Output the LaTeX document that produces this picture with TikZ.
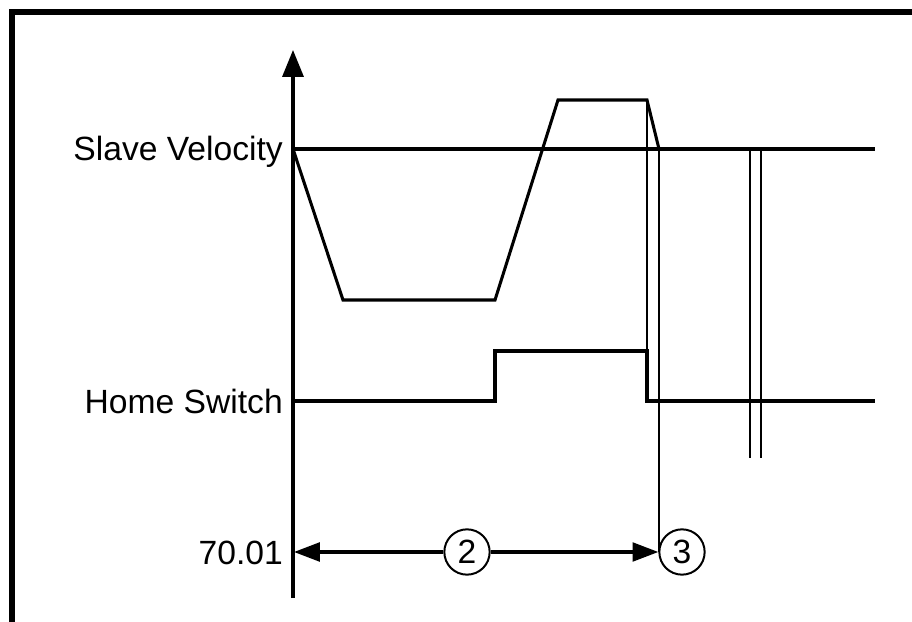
\documentclass[tikz,border=0pt]{standalone}
\usepackage{fontspec}
\setmainfont{Liberation Sans}
\usetikzlibrary{arrows.meta, positioning, calc}

\begin{document}
\begin{tikzpicture}[x=0.03cm, y=-0.03cm, font=\fontsize{28.7}{34}\selectfont]
    \tikzstyle{frame} = [line width=5.4pt, line join=miter]
    \tikzstyle{wave} = [line width=2.6pt, line join=miter]
    \tikzstyle{marker} = [line width=1.7pt]
    \tikzstyle{sig} = [anchor=base east, inner sep=0pt]
    \tikzstyle{num} = [circle, draw=black, line width=1.7pt, minimum size=1.36cm, inner sep=0pt]
    \tikzstyle{arrow} = [line width=2.6pt, -{Triangle[length=22pt, width=16pt]}]

    \useasboundingbox (0,0) rectangle (912,622);
    \draw[frame] (12,622) -- (12,12) -- (912,12);

    % axis
    \coordinate (axbot) at (293,598);
    \coordinate (axtop) at (293,50);
    \draw[line width=2.6pt, -{Triangle[length=23pt, width=18pt]}] (axbot) -- (axtop);

    % labels
    \node (vel) [sig] at (283,161) {Slave Velocity};
    \node (home) [sig] at (283,413) {Home Switch};
    \node (pos) [sig] at (283,564) {70.01};

    % slave velocity
    \coordinate (v0) at (293,149);
    \coordinate (vend) at (875,149);
    \draw[wave] (v0) -- (vend);
    \draw[wave] (v0) -- (343,300) -- (495,300) -- (558,100) -- (647,100) -- (659,149);

    % home switch
    \coordinate (h0) at (293,401);
    \draw[wave] (h0) -- (495,401) -- (495,351) -- (647,351) -- (647,401) -- (875,401);

    % markers
    \node (c2) [num] at (467,552) {2};
    \node (c3) [num] at (682,552) {3};
    \coordinate (m2top) at (647,100);
    \coordinate (m3top) at (659,149);
    \draw[marker] (m2top) -- (647,351);
    \draw[marker] (m3top) -- (m3top |- c3.west);
    \draw[marker] (750,149) -- (750,458);
    \draw[marker] (761,149) -- (761,458);

    % distance
    \coordinate (a70) at (294,552);
    \draw[arrow] (c2) -- (a70);
    \draw[arrow] (c2) -- (c3);
\end{tikzpicture}
\end{document}
